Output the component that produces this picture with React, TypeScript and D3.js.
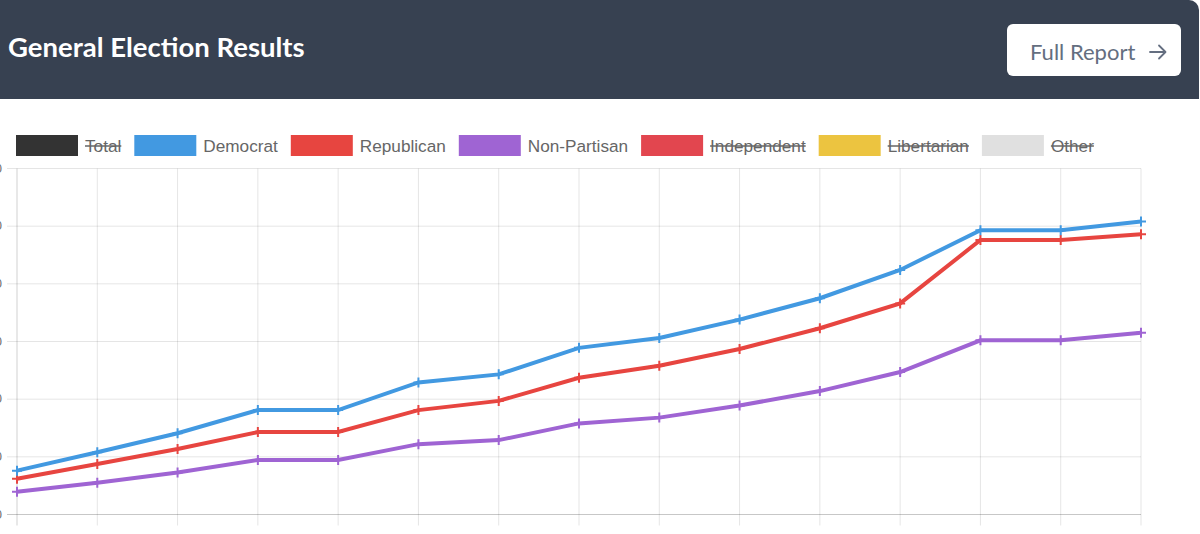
import React, { useMemo } from 'react';
import * as d3 from 'd3';

const W = 1200;
const H = 534;

const periods = [1, 2, 3, 4, 5, 6, 7, 8, 9, 10, 11, 12, 13, 14, 15];
const democrat = [7.6, 10.8, 14.1, 18.1, 18.1, 22.9, 24.3, 28.9, 30.6, 33.8, 37.5, 42.4, 49.3, 49.3, 50.8];
const republican = [6.2, 8.75, 11.35, 14.3, 14.3, 18.1, 19.7, 23.7, 25.8, 28.7, 32.3, 36.6, 47.6, 47.6, 48.6];
const nonPartisan = [3.95, 5.5, 7.3, 9.45, 9.45, 12.2, 12.9, 15.8, 16.8, 18.9, 21.4, 24.7, 30.2, 30.2, 31.5];
const yTicks = [0, 10, 20, 30, 40, 50, 60];

const legendItems = [
  { label: 'Total', color: '#333333', hidden: true },
  { label: 'Democrat', color: '#4299e1', hidden: false },
  { label: 'Republican', color: '#e74540', hidden: false },
  { label: 'Non-Partisan', color: '#9f64d3', hidden: false },
  { label: 'Independent', color: '#e2464f', hidden: true },
  { label: 'Libertarian', color: '#ecc440', hidden: true },
  { label: 'Other', color: '#e0e0e0', hidden: true },
];

const series = [
  { name: 'Democrat', values: democrat, color: '#4299e1' },
  { name: 'Republican', values: republican, color: '#e74540' },
  { name: 'Non-Partisan', values: nonPartisan, color: '#9f64d3' },
];

const LEGEND_FONT = "17.2px 'Liberation Sans', Arial, sans-serif";

export default function App() {
  const left = 17;
  const right = 1141;
  const top = 168.5;
  const bottom = 514.5;

  const x = d3.scalePoint<number>().domain(periods).range([left, right]);
  const y = d3.scaleLinear().domain([0, 60]).range([bottom, top]);

  const line = d3
    .line<number>()
    .x((_, i) => x(periods[i]) as number)
    .y((d) => y(d));

  const legendLayout = useMemo(() => {
    const canvas = document.createElement('canvas');
    const ctx = canvas.getContext('2d')!;
    ctx.font = LEGEND_FONT;
    let cx = 16;
    const boxW = 62;
    return legendItems.map((it) => {
      const tw = ctx.measureText(it.label).width;
      const item = { ...it, boxX: cx, textX: cx + boxW + 7, tw };
      cx = cx + boxW + 7 + tw + 13;
      return item;
    });
  }, []);

  return (
    <div style={{ position: 'absolute', left: 0, top: 0, width: W, height: H, background: '#fff' }}>
      <svg width={W} height={H} style={{ display: 'block' }}>
        {/* header card */}
        <rect x={-20} y={0} width={1219} height={99} rx={10} fill="#374151" />
        <rect x={-20} y={50} width={1219} height={49} fill="#374151" />
        <text
          x={8}
          y={57}
          fill="#ffffff"
          style={{ font: "700 27.5px Lato, 'Open Sans', sans-serif" }}
        >
          General Election Results
        </text>
        <rect x={1007} y={24} width={174} height={52} rx={6} fill="#ffffff" />
        <text
          x={1030}
          y={60}
          fill="#646e80"
          style={{ font: "400 22px Lato, 'Open Sans', sans-serif" }}
        >
          Full Report
        </text>
        <path
          d="M1150,52 L1165,52 M1159,45.5 L1165.5,52 L1159,58.5"
          fill="none"
          stroke="#646e80"
          strokeWidth={1.8}
          strokeLinecap="round"
          strokeLinejoin="round"
        />

        {/* legend */}
        {legendLayout.map((it) => (
          <g key={it.label}>
            <rect x={it.boxX} y={135} width={62} height={21} fill={it.color} />
            <text
              x={it.textX}
              y={146}
              dominantBaseline="central"
              fill="#666666"
              style={{ font: LEGEND_FONT }}
            >
              {it.label}
            </text>
            {it.hidden && (
              <line x1={it.textX} x2={it.textX + it.tw} y1={146} y2={146} stroke="#666666" strokeWidth={1.5} />
            )}
          </g>
        ))}

        {/* grid */}
        {yTicks.map((t) => (
          <g key={'y' + t}>
            <line
              x1={left - 10}
              x2={right}
              y1={y(t)}
              y2={y(t)}
              stroke={t === 0 ? 'rgba(0,0,0,0.22)' : 'rgba(0,0,0,0.1)'}
              strokeWidth={1}
            />
            <text
              x={2}
              y={y(t)}
              textAnchor="end"
              dominantBaseline="central"
              fill="#666666"
              style={{ font: "12px 'Liberation Sans', Arial, sans-serif" }}
            >
              {t}
            </text>
          </g>
        ))}
        {periods.map((p, i) => (
          <line
            key={'x' + p}
            x1={x(p)}
            x2={x(p)}
            y1={top}
            y2={bottom + 11}
            stroke={i === 0 ? 'rgba(0,0,0,0.18)' : 'rgba(0,0,0,0.1)'}
            strokeWidth={1}
          />
        ))}

        {/* lines */}
        {series
          .slice()
          .reverse()
          .map((s) => (
            <g key={s.name}>
              <path d={line(s.values) || ''} fill="none" stroke={s.color} strokeWidth={4} strokeLinejoin="miter" />
              {s.values.map((v, i) => {
                const cx = x(periods[i]) as number;
                const cy = y(v);
                return (
                  <path
                    key={i}
                    d={`M${cx - 5},${cy} L${cx + 5},${cy} M${cx},${cy - 5} L${cx},${cy + 5}`}
                    stroke={s.color}
                    strokeWidth={2}
                  />
                );
              })}
            </g>
          ))}
      </svg>
    </div>
  );
}
